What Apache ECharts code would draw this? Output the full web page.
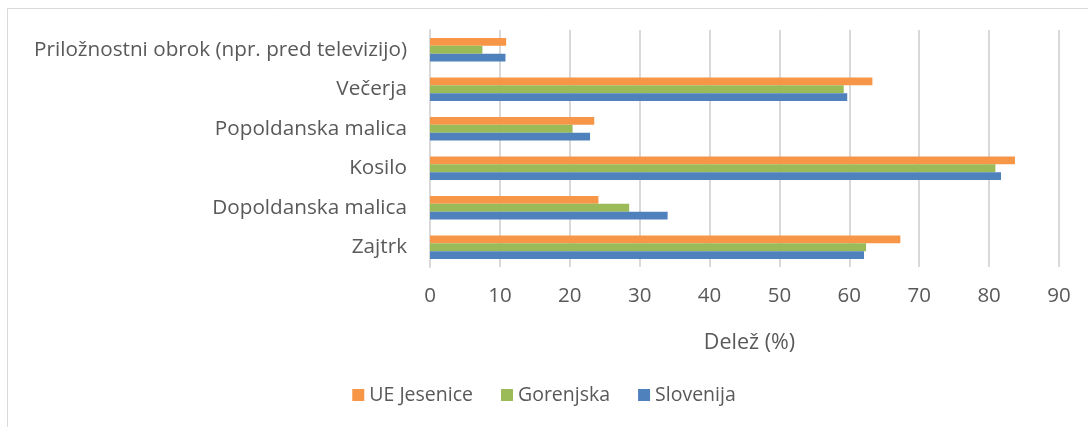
<html>
<head>
    <meta http-equiv="Content-Type" content="text/html; charset=utf-8" />
    <title>Delež obrokov</title>
    <style>
        body { margin: 0; background: #fff; }
        #container { width: 1088px; height: 427px; }
    </style>
</head>
<body>
    <div id="container"></div>
    <script src="https://cdn.jsdelivr.net/npm/echarts@6/dist/echarts.min.js"></script>
    <script type="text/javascript">
    // kategorije od spodaj navzgor (y os gre od spodaj)
    var categories = ['Zajtrk', 'Dopoldanska malica', 'Kosilo', 'Popoldanska malica', 'Večerja', 'Priložnostni obrok (npr. pred televizijo)'];
    var ueJesenice = [67.3, 24.1, 83.7, 23.5, 63.3, 10.9];
    var gorenjska = [62.4, 28.5, 80.9, 20.4, 59.2, 7.5];
    var slovenija = [62.1, 34.0, 81.7, 22.9, 59.7, 10.8];
    var xTicks = [0, 10, 20, 30, 40, 50, 60, 70, 80, 90];

    var txt = '#595959';
    var font = 'Open Sans';

    var myChart = echarts.init(document.getElementById('container'));

    myChart.setOption({
        animation: false,
        textStyle: { fontFamily: font },
        graphic: [{
            type: 'rect',
            shape: { x: 7.5, y: 8.5, width: 1200, height: 600 },
            style: { fill: 'none', stroke: '#d9d9d9', lineWidth: 1 },
            silent: true
        }],
        legend: {
            data: ['UE Jesenice', 'Gorenjska', 'Slovenija'],
            top: 380,
            left: 'center',
            icon: 'rect',
            itemWidth: 12,
            itemHeight: 12,
            itemGap: 28,
            textStyle: { fontSize: 19.5, color: txt, fontFamily: font }
        },
        grid: { left: 430, right: 29, top: 30, bottom: 160 },
        xAxis: {
            type: 'value',
            min: xTicks[0],
            max: xTicks[xTicks.length - 1],
            interval: 10,
            name: 'Delež (%)',
            nameLocation: 'middle',
            nameGap: 65,
            nameTextStyle: { fontSize: 21.5, color: txt, fontFamily: font, padding: [0, 0, 0, 10] },
            axisLine: { show: false },
            axisTick: { show: false },
            axisLabel: { fontSize: 20.5, color: txt, margin: 19, fontFamily: font },
            splitLine: { lineStyle: { color: '#d9d9d9', width: 2 } }
        },
        yAxis: {
            type: 'category',
            data: categories,
            axisLine: { show: true, lineStyle: { color: '#d9d9d9', width: 2 } },
            axisTick: { show: false },
            axisLabel: { fontSize: 20.7, color: txt, margin: 23, fontFamily: font }
        },
        series: [{
            name: 'UE Jesenice',
            type: 'bar',
            data: ueJesenice,
            itemStyle: { color: '#f79646' },
            barGap: '0%',
            barCategoryGap: '40%'
        }, {
            name: 'Gorenjska',
            type: 'bar',
            data: gorenjska,
            itemStyle: { color: '#9bbb59' }
        }, {
            name: 'Slovenija',
            type: 'bar',
            data: slovenija,
            itemStyle: { color: '#4f81bd' }
        }]
    });
    </script>
</body>
</html>
